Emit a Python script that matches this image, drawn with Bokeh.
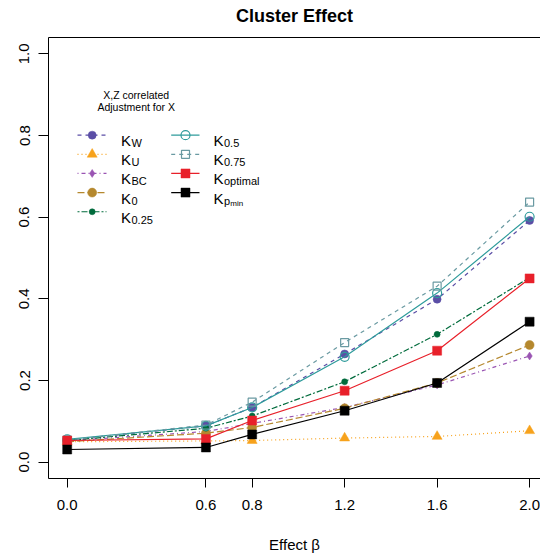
from bokeh.plotting import figure
from bokeh.models import FixedTicker, Range1d, NumeralTickFormatter, LinearAxis
from bokeh.embed import file_html
from bokeh.resources import INLINE
from bokeh.core.properties import value

# ---------------- data ----------------
beta = [0.0, 0.6, 0.8, 1.2, 1.6, 2.0]
k_w = [0.054, 0.089, 0.134, 0.265, 0.399, 0.592]
k_u = [0.050, 0.052, 0.053, 0.059, 0.063, 0.077]
k_bc = [0.052, 0.075, 0.095, 0.134, 0.189, 0.260]
k_0 = [0.050, 0.071, 0.085, 0.132, 0.194, 0.287]
k_025 = [0.053, 0.083, 0.113, 0.197, 0.313, 0.452]
k_05 = [0.056, 0.089, 0.134, 0.258, 0.414, 0.601]
k_075 = [0.054, 0.091, 0.147, 0.293, 0.431, 0.637]
k_opt = [0.053, 0.057, 0.102, 0.175, 0.273, 0.450]
k_pmin = [0.031, 0.036, 0.068, 0.126, 0.194, 0.344]

x_ticks = [0.0, 0.6, 0.8, 1.2, 1.6, 2.0]
y_ticks = [0.0, 0.2, 0.4, 0.6, 0.8, 1.0]

title_text = "Cluster Effect"
x_label = "Effect \u03b2"
legend_heading = ["X,Z correlated", "Adjustment for X"]

FONT = "Liberation Sans"

# page-pixel -> data helpers (for legend placement)
def X(px):
    return (px - 67.7) / 231.2

def Y(py):
    return (463.3 - py) / 409.3

p = figure(width=540, height=555, output_backend="svg", toolbar_location=None,
           x_range=Range1d(X(49), X(541)), y_range=Range1d(-0.04, 1.04),
           min_border_left=48, min_border_right=0, min_border_top=37,
           min_border_bottom=76, title=None)
p.outline_line_color = None
p.xgrid.visible = False
p.ygrid.visible = False
p.background_fill_color = "white"
p.border_fill_color = "white"

for ax in (p.xaxis[0], p.yaxis[0]):
    ax.axis_line_color = "black"
    ax.axis_line_width = 1
    ax.major_tick_line_color = "black"
    ax.major_tick_in = 0
    ax.minor_tick_line_color = None
    ax.major_label_text_font = FONT
    ax.major_label_text_font_size = "15px"
    ax.major_label_text_color = "black"
    ax.formatter = NumeralTickFormatter(format="0.0")

p.xaxis[0].ticker = FixedTicker(ticks=x_ticks)
p.xaxis[0].major_tick_out = 9
p.xaxis[0].major_label_standoff = 12
p.xaxis[0].axis_label = x_label
p.xaxis[0].axis_label_text_font = FONT
p.xaxis[0].axis_label_text_font_size = "15px"
p.xaxis[0].axis_label_text_font_style = "normal"
p.xaxis[0].axis_label_text_color = "black"
p.xaxis[0].axis_label_standoff = 23

p.yaxis[0].ticker = FixedTicker(ticks=y_ticks)
p.yaxis[0].major_tick_out = 10
p.yaxis[0].major_label_standoff = 9
p.yaxis[0].major_label_orientation = "vertical"

# top border line carrying the chart title
top = LinearAxis(ticker=FixedTicker(ticks=[]), axis_line_color="black", axis_line_width=1,
                 major_tick_line_color=None, minor_tick_line_color=None,
                 major_label_text_font_size="0px", axis_label=title_text,
                 axis_label_text_font=FONT, axis_label_text_font_size="18px",
                 axis_label_text_font_style="bold", axis_label_text_color="black",
                 axis_label_standoff=12)
p.add_layout(top, "above")

series = [
    # values, color, dash, marker, size, filled, sub
    (k_w, "#5B4EA6", "4 4", "circle", 8, True, "W"),
    (k_u, "#F7A21C", "1 3", "triangle", 10, True, "U"),
    (k_bc, "#9A55B3", "1 3 4 3", "diamond", 8, True, "BC"),
    (k_0, "#B5882E", "7 3", "circle", 9, True, "0"),
    (k_025, "#006B3C", "2 2 6 2", "circle", 6, True, "0.25"),
    (k_05, "#2E9B9B", "solid", "circle", 9, False, "0.5"),
    (k_075, "#6A9AA2", "4 4", "square", 8, False, "0.75"),
    (k_opt, "#E8202A", "solid", "square", 9, True, "optimal"),
    (k_pmin, "#000000", "solid", "square", 9, True, None),
]

for vals, col, dash, mk, sz, filled, sub in series:
    p.line(beta, vals, line_color=col, line_dash=dash, line_width=1.2)
    if filled:
        p.scatter(beta, vals, marker=mk, size=sz, fill_color=col, line_color=col, line_width=0.5)
    else:
        p.scatter(beta, vals, marker=mk, size=sz, fill_color=None, line_color=col, line_width=1.2)

# ---------------- legend (drawn manually) ----------------
row_y = [135.5, 154.7, 173.9, 193.1, 212.3]
cols = [(78, 107, 92.7, 121.5), (171.7, 200, 186, 214)]
for i, (vals, col, dash, mk, sz, filled, sub) in enumerate(series):
    c = 0 if i < 5 else 1
    r = i if i < 5 else i - 5
    x1, x2, xm, xt = cols[c]
    yy = row_y[r]
    p.line([X(x1), X(x2)], [Y(yy), Y(yy)], line_color=col, line_dash=dash, line_width=1.2)
    if filled:
        p.scatter([X(xm)], [Y(yy)], marker=mk, size=sz, fill_color=col, line_color=col, line_width=0.5)
    else:
        p.scatter([X(xm)], [Y(yy)], marker=mk, size=sz, fill_color=None, line_color=col, line_width=1.2)
    base = yy + 5.5
    p.text([X(xt)], [Y(base)], text=["K"], text_font=value(FONT), text_font_size="15px",
           text_baseline="alphabetic", text_align="left", text_color="black")
    if sub is not None:
        p.text([X(xt + 10.5)], [Y(base + 2.5)], text=[sub], text_font=value(FONT),
               text_font_size="11px", text_baseline="alphabetic", text_align="left",
               text_color="black")
    else:
        p.text([X(xt + 10.5)], [Y(base + 2.5)], text=["p"], text_font=value(FONT),
               text_font_size="11px", text_baseline="alphabetic", text_align="left",
               text_color="black")
        p.text([X(xt + 16.8)], [Y(base + 5)], text=["min"], text_font=value(FONT),
               text_font_size="8px", text_baseline="alphabetic", text_align="left",
               text_color="black")

for j, line in enumerate(legend_heading):
    p.text([X(136.7)], [Y(95 + 12 * j)], text=[line], text_font=value(FONT),
           text_font_size="10.5px", text_baseline="middle", text_align="center",
           text_color="black")

open("out.html", "w").write(file_html(p, INLINE))
